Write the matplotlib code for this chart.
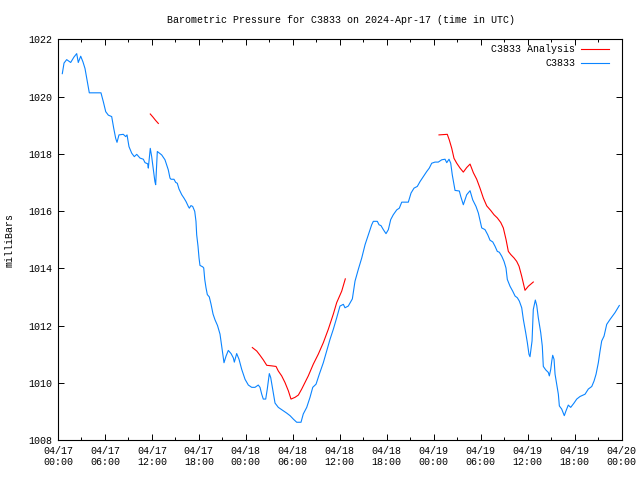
import matplotlib
matplotlib.use("Agg")
from matplotlib import pyplot as plt
from matplotlib.lines import Line2D
import numpy as np

# hours since 2024-04-17 00:00 UTC and pressure in millibars
obs_hours = [0.55, 0.77, 1.11, 1.62, 2.04, 2.39, 2.59, 2.9, 3.19, 3.45, 3.71, 4.0, 5.49, 5.79, 6.1,
             6.43, 6.86, 7.12, 7.37, 7.54, 7.79, 8.34, 8.65, 8.82, 9.07, 9.42, 9.75, 10.06, 10.48,
             10.9, 11.12, 11.46, 11.54, 11.79, 11.97, 12.18, 12.38, 12.48, 12.69, 13.25, 13.67,
             14.09, 14.31, 14.44, 14.82, 15.04, 15.24, 15.46, 15.81, 16.1, 16.36, 16.65, 16.78,
             16.99, 17.21, 17.47, 17.63, 17.72, 17.89, 18.02, 18.14, 18.49, 18.62, 18.75, 18.91,
             19.08, 19.33, 19.55, 19.81, 20.06, 20.38, 20.7, 20.92, 21.21, 21.47, 21.76, 22.11,
             22.4, 22.53, 22.83, 23.13, 23.47, 23.9, 24.32, 24.75, 25.17, 25.59, 25.81, 26.03,
             26.23, 26.54, 26.74, 27.0, 27.18, 27.43, 27.73, 28.15, 28.79, 29.22, 29.65, 30.07,
             30.5, 31.05, 31.34, 31.78, 32.2, 32.55, 32.97, 33.39, 33.9, 34.33, 34.76, 35.18,
             35.61, 36.03, 36.46, 36.67, 37.09, 37.61, 37.95, 38.37, 38.81, 39.24, 39.65, 40.08,
             40.29, 40.8, 41.02, 41.27, 41.57, 41.91, 42.21, 42.51, 42.84, 43.28, 43.61, 43.92,
             44.76, 45.11, 45.49, 45.91, 46.26, 46.68, 47.11, 47.44, 47.75, 48.17, 48.59, 49.03,
             49.45, 49.67, 49.96, 50.18, 50.38, 50.73, 51.28, 51.46, 51.79, 52.22, 52.65, 52.99,
             53.41, 53.71, 54.14, 54.56, 54.91, 55.2, 55.55, 55.84, 56.13, 56.39, 56.7, 56.99,
             57.24, 57.41, 57.76, 58.1, 58.4, 58.69, 58.95, 59.25, 59.46, 59.76, 59.97, 60.18,
             60.31, 60.4, 60.57, 60.73, 60.99, 61.17, 61.37, 61.68, 61.88, 62.01, 62.32, 62.65,
             62.78, 62.96, 63.09, 63.21, 63.38, 63.51, 63.72, 63.93, 64.06, 64.36, 64.69, 64.91,
             65.2, 65.51, 65.93, 66.28, 66.7, 67.34, 67.76, 68.2, 68.49, 68.75, 69.04, 69.26,
             69.47, 69.77, 70.11, 70.53, 71.17, 71.72]
obs_mb = [1020.8, 1021.17, 1021.29, 1021.19, 1021.38, 1021.5, 1021.19, 1021.41, 1021.21, 1020.98,
          1020.57, 1020.13, 1020.13, 1019.82, 1019.47, 1019.35, 1019.3, 1018.89, 1018.54, 1018.4,
          1018.66, 1018.68, 1018.6, 1018.66, 1018.25, 1018.02, 1017.9, 1017.98, 1017.85, 1017.81,
          1017.69, 1017.65, 1017.5, 1018.19, 1017.9, 1017.44, 1017.03, 1016.92, 1018.08, 1017.96,
          1017.79, 1017.44, 1017.15, 1017.11, 1017.11, 1017.0, 1016.97, 1016.77, 1016.57, 1016.45,
          1016.33, 1016.16, 1016.1, 1016.19, 1016.16, 1015.99, 1015.64, 1015.17, 1014.77, 1014.36,
          1014.1, 1014.05, 1014.01, 1013.61, 1013.32, 1013.08, 1013.0, 1012.75, 1012.4, 1012.2,
          1012.0, 1011.7, 1011.28, 1010.7, 1010.93, 1011.13, 1011.02, 1010.87, 1010.72, 1011.02,
          1010.82, 1010.47, 1010.12, 1009.92, 1009.84, 1009.84, 1009.92, 1009.84, 1009.6, 1009.43,
          1009.43, 1009.78, 1010.32, 1010.18, 1009.78, 1009.29, 1009.14, 1009.02, 1008.94, 1008.85,
          1008.73, 1008.62, 1008.62, 1008.91, 1009.14, 1009.49, 1009.84, 1009.95, 1010.3, 1010.7,
          1011.11, 1011.52, 1011.87, 1012.27, 1012.68, 1012.74, 1012.62, 1012.68, 1012.93, 1013.55,
          1013.96, 1014.36, 1014.83, 1015.17, 1015.52, 1015.64, 1015.64, 1015.52, 1015.49, 1015.35,
          1015.21, 1015.35, 1015.7, 1015.87, 1016.04, 1016.1, 1016.31, 1016.31, 1016.63, 1016.8,
          1016.86, 1017.03, 1017.2, 1017.38, 1017.5, 1017.67, 1017.71, 1017.71, 1017.79, 1017.81,
          1017.69, 1017.81, 1017.67, 1017.26, 1016.72, 1016.7, 1016.51, 1016.22, 1016.57, 1016.71,
          1016.39, 1016.16, 1015.93, 1015.41, 1015.35, 1015.17, 1014.98, 1014.92, 1014.77, 1014.59,
          1014.56, 1014.42, 1014.24, 1014.01, 1013.61, 1013.37, 1013.2, 1013.03, 1012.97, 1012.85,
          1012.62, 1012.21, 1011.75, 1011.4, 1010.99, 1010.91, 1011.11, 1011.46, 1012.56, 1012.89,
          1012.7, 1012.27, 1011.75, 1011.28, 1010.57, 1010.45, 1010.36, 1010.24, 1010.47, 1010.76,
          1010.96, 1010.82, 1010.3, 1009.95, 1009.6, 1009.19, 1009.08, 1008.85, 1009.02, 1009.22,
          1009.14, 1009.29, 1009.43, 1009.52, 1009.6, 1009.78, 1009.87, 1010.06, 1010.3, 1010.7,
          1011.11, 1011.46, 1011.63, 1012.04, 1012.21, 1012.45, 1012.7]

# analysis comes in three separate pieces
ana1_hours = [11.79, 12.14, 12.46, 12.82]
ana1_mb = [1019.39, 1019.28, 1019.17, 1019.06]
ana2_hours = [24.83, 25.39, 25.81, 26.23, 26.67, 27.31, 27.86, 28.15, 28.58, 29.0, 29.43, 29.77,
              30.28, 30.71, 31.14, 31.56, 31.98, 32.62, 33.26, 33.9, 34.54, 35.18, 35.61, 36.25, 36.71]
ana2_mb = [1011.23, 1011.11, 1010.96, 1010.8, 1010.61, 1010.59, 1010.57, 1010.41, 1010.24, 1010.01,
           1009.72, 1009.43, 1009.49, 1009.57, 1009.78, 1010.01, 1010.24, 1010.65, 1011.0, 1011.4,
           1011.87, 1012.4, 1012.8, 1013.2, 1013.63]
ana3_hours = [48.68, 49.74, 50.0, 50.31, 50.6, 50.95, 51.37, 51.79, 52.22, 52.65, 53.07, 53.5, 53.92,
              54.35, 54.78, 55.29, 55.71, 56.13, 56.57, 56.9, 57.25, 57.54, 57.85, 58.27, 58.61,
              58.91, 59.25, 59.67, 60.09, 60.73]
ana3_mb = [1018.66, 1018.68, 1018.48, 1018.19, 1017.84, 1017.67, 1017.5, 1017.36, 1017.52, 1017.64,
           1017.34, 1017.11, 1016.8, 1016.45, 1016.18, 1016.02, 1015.87, 1015.76, 1015.6, 1015.41,
           1015.0, 1014.59, 1014.48, 1014.36, 1014.24, 1014.07, 1013.72, 1013.23, 1013.37, 1013.52]

tick_labels = ["04/17\n00:00", "04/17\n06:00", "04/17\n12:00", "04/17\n18:00",
               "04/18\n00:00", "04/18\n06:00", "04/18\n12:00", "04/18\n18:00",
               "04/19\n00:00", "04/19\n06:00", "04/19\n12:00", "04/19\n18:00",
               "04/20\n00:00"]

plt.rcParams['font.family'] = ['Liberation Mono', 'DejaVu Sans Mono']
plt.rcParams['font.size'] = 7.2

red = "#ff0000"
blue = "#0a84ff"

fig = plt.figure(figsize=(6.4, 4.8), dpi=100)
ax = fig.add_axes([58/640, 40/480, 563.5/640, 400.7/480])

ax.plot(ana1_hours, ana1_mb, color=red, lw=0.8)
ax.plot(ana2_hours, ana2_mb, color=red, lw=0.8)
ax.plot(ana3_hours, ana3_mb, color=red, lw=0.8)
ax.plot(obs_hours, obs_mb, color=blue, lw=0.8)

ax.set_xlim(0, 72)
ax.set_ylim(1008, 1022)
ax.set_xticks(np.arange(0, 73, 6))
ax.set_xticklabels(tick_labels)
ax.set_xticks(np.arange(0, 73, 3), minor=True)
ax.set_yticks(np.arange(1008, 1023, 2))
ax.tick_params(which='both', direction='in', top=True, right=True, width=0.7)
ax.tick_params(which='major', length=4.5, pad=4)
ax.tick_params(which='minor', length=2.5)
for s in ax.spines.values():
    s.set_linewidth(0.8)

ax.set_ylabel("milliBars", labelpad=10)
fig.text(341/640, 1 - 20/480, "Barometric Pressure for C3833 on 2024-Apr-17 (time in UTC)",
         ha='center', va='center')

# gnuplot style key: right aligned text, sample line after it
for ypos, label, col in [(0.976, "C3833 Analysis", red), (0.941, "C3833", blue)]:
    ax.text(0.9175, ypos, label, ha='right', va='center', transform=ax.transAxes)
    ax.add_line(Line2D([0.928, 0.978], [ypos, ypos], color=col, lw=0.8, transform=ax.transAxes))

fig.savefig("out.png", dpi=100)
